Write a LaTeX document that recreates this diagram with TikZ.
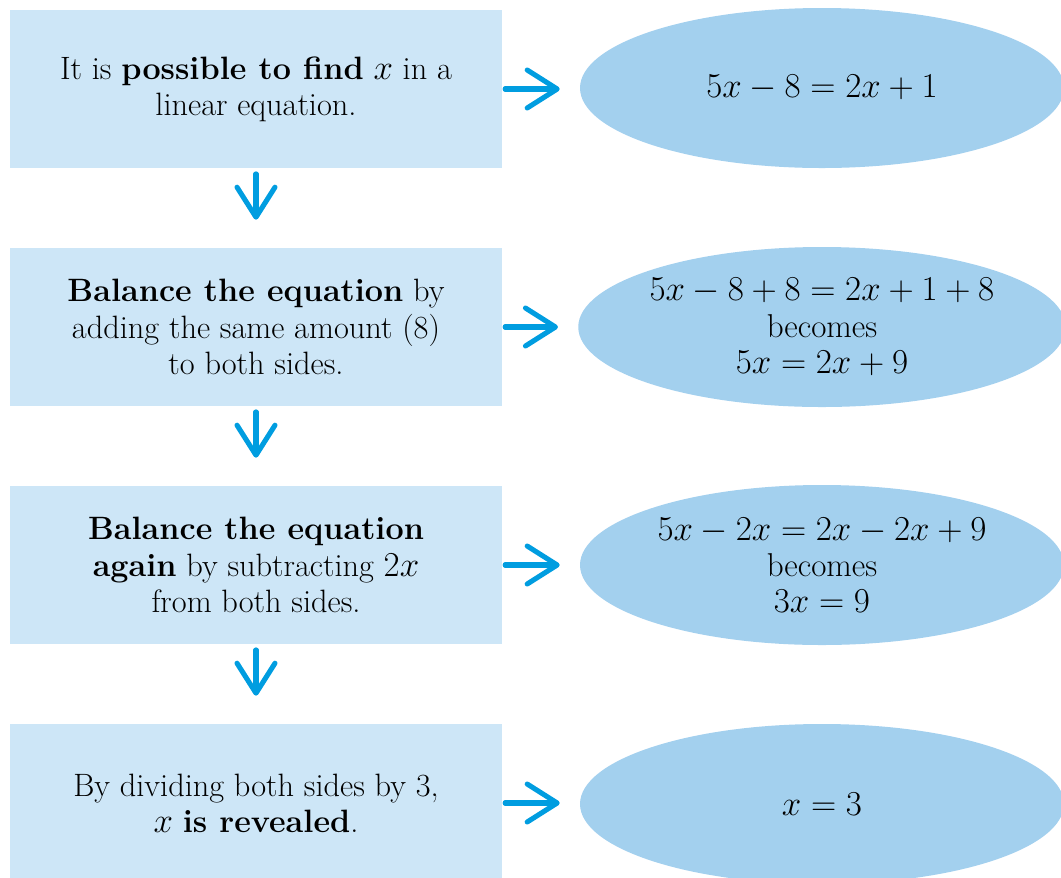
\documentclass[tikz,border=0pt]{standalone}
\usepackage{amsmath, amssymb}
\usetikzlibrary{shapes.geometric, arrows.meta}

\definecolor{boxblue}{RGB}{205,230,247}
\definecolor{eqblue}{RGB}{163,208,238}
\definecolor{arrowblue}{RGB}{0,157,224}

\begin{document}
\begin{tikzpicture}[
    stepbox/.style={rectangle, fill=boxblue, minimum width=12.3cm, minimum height=3.95cm,
        inner sep=0pt, align=center, font=\fontsize{23}{25.8}\selectfont},
    eqn/.style={ellipse, fill=eqblue, minimum width=12.1cm, minimum height=4cm,
        inner sep=0pt, align=center, font=\fontsize{23.5}{25.8}\selectfont},
    arr/.style={draw=arrowblue, line width=3.6pt, line cap=round,
        -{Straight Barb[length=0.75cm, width=0.95cm, line width=3.6pt, round]}}
]
    \useasboundingbox (0,0) rectangle (26.525,-21.925);

    % Draw steps
    \node[stepbox] (b1) at (6.4,-2.225) {It is \textbf{possible to find} $x$ in a\\linear equation.};
    \node[stepbox] (b2) at (6.4,-8.175) {\textbf{Balance the equation} by\\adding the same amount (8)\\to both sides.};
    \node[stepbox] (b3) at (6.4,-14.125) {\textbf{Balance the equation}\\\textbf{again} by subtracting $2x$\\from both sides.};
    \node[stepbox] (b4) at (6.4,-20.075) {By dividing both sides by 3,\\$x$ \textbf{is revealed}.};

    % Draw equations
    \node[eqn] (e1) at (20.55,-2.2) {$5x - 8 = 2x + 1$};
    \node[eqn] (e2) at (20.55,-8.175) {$5x - 8 + 8 = 2x + 1 + 8$\\becomes\\$5x = 2x + 9$};
    \node[eqn] (e3) at (20.55,-14.125) {$5x - 2x = 2x - 2x + 9$\\becomes\\$3x = 9$};
    \node[eqn] (e4) at (20.55,-20.1) {$x = 3$};

    % Draw arrows
    \draw[arr, shorten <=2pt, shorten >=0.5cm] (b1.east) -- (e1.west |- b1.east);
    \draw[arr, shorten <=2pt, shorten >=0.5cm] (b2.east) -- (e2.west |- b2.east);
    \draw[arr, shorten <=2pt, shorten >=0.5cm] (b3.east) -- (e3.west |- b3.east);
    \draw[arr, shorten <=2pt, shorten >=0.5cm] (b4.east) -- (e4.west |- b4.east);

    \draw[arr, shorten <=4pt, shorten >=0.7cm] (b1.south) -- (b2.north);
    \draw[arr, shorten <=4pt, shorten >=0.7cm] (b2.south) -- (b3.north);
    \draw[arr, shorten <=4pt, shorten >=0.7cm] (b3.south) -- (b4.north);
\end{tikzpicture}
\end{document}
